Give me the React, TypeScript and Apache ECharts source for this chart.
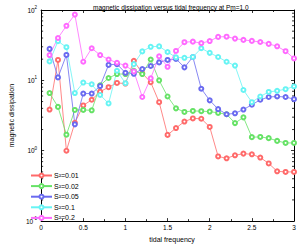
import React, { useEffect, useRef } from "react";
import * as echarts from "echarts";

const freqs = [0.1,0.2,0.3,0.4,0.5,0.6,0.7,0.8,0.9,1.0,1.1,1.2,1.3,1.4,1.5,1.6,1.7,1.8,1.9,2.0,2.1,2.2,2.3,2.4,2.5,2.6,2.7,2.8,2.9,3.0];
const s001 = [3.85,19.5,1.0,2.5,4.4,5.3,6.9,8.0,9.2,9.0,19,12.6,9.4,4.9,1.68,2.1,2.6,2.88,2.85,2.18,0.83,0.78,0.86,0.91,0.89,0.80,0.66,0.51,0.50,0.50];
const s002 = [6.6,4.2,1.69,3.8,3.8,3.75,8.5,10.8,12.3,12.3,13.7,12.3,19.8,10,5.9,4.0,3.56,3.68,3.65,3.6,3.45,3.3,2.47,2.98,1.56,1.57,1.51,1.38,1.29,1.29];
const s005 = [28,11,23,2.37,6.5,6.5,8.3,16.6,17,12.8,12.4,14.5,16,18,19.5,20.2,15.3,21.5,7.6,5.2,3.9,3.3,3.4,3.85,4.5,5.3,5.8,5.9,5.8,5.4];
const s01 = [18.6,36,29.6,6.6,9.3,8.8,6.2,4.7,13.7,9.1,17,25.8,30,30.5,25.3,21.2,20.9,21.5,28.6,24.6,21.5,18.4,16.2,7.3,4.9,5.9,6.85,7.1,7.5,8.2];
const s02 = [22.9,40,59.6,86,18.4,28.6,22.9,19.8,17.8,16.2,13.4,5.8,10.7,22,15.6,26.2,34.9,35.5,33.8,36.2,41.5,41.8,39.2,37.6,36.4,35.1,33,30.5,26,20.5];

const seriesNames = ["S²=0.01", "S²=0.02", "S²=0.05", "S²=0.1", "S²=0.2"];
const seriesValues = [s001, s002, s005, s01, s02];
const seriesColors = ["#ff6a6a", "#66e266", "#6a6af0", "#66f4f4", "#ff6aff"];
const xTicks = [0, 0.5, 1, 1.5, 2, 2.5, 3];
const yDecades = [0.1, 1, 10, 100];

const FONT = "Liberation Sans, Arial, Helvetica, sans-serif";

export default function App() {
  const ref = useRef<HTMLDivElement>(null);
  useEffect(() => {
    document.body.style.margin = "0";
    const chart = echarts.init(ref.current!, null, { renderer: "svg" });
    const minorVals: number[][] = [];
    for (let d = 0; d < yDecades.length - 1; d++) {
      for (let k = 2; k <= 9; k++) minorVals.push([0, yDecades[d] * k]);
    }
    const lineSeries = seriesNames.map((name, i) => ({
      name,
      type: "line",
      data: freqs.map((f, j) => [f, seriesValues[i][j]]),
      symbol: "emptyCircle",
      symbolSize: 4,
      lineStyle: { width: 0.8, color: seriesColors[i] },
      itemStyle: { color: seriesColors[i], borderColor: seriesColors[i], borderWidth: 0.8 },
      xAxisIndex: 0,
      yAxisIndex: 0,
    }));
    const axisCommonX = {
      type: "value",
      min: xTicks[0],
      max: xTicks[xTicks.length - 1],
      interval: 0.5,
      axisLine: { show: true, onZero: false, lineStyle: { color: "#000", width: 1 } },
      axisTick: { show: true, inside: true, length: 3, lineStyle: { color: "#000", width: 0.8 } },
      minorTick: { show: true, splitNumber: 2, length: 2, lineStyle: { color: "#000", width: 0.8 } },
      splitLine: { show: false },
    };
    const axisCommonY = {
      type: "log",
      logBase: 10,
      min: yDecades[0],
      max: yDecades[yDecades.length - 1],
      axisLine: { show: true, onZero: false, lineStyle: { color: "#000", width: 1 } },
      axisTick: { show: true, inside: true, length: 3, lineStyle: { color: "#000", width: 0.8 } },
      splitLine: { show: false },
    };
    chart.setOption({
      animation: false,
      backgroundColor: "#fff",
      title: {
        text: "magnetic dissipation versus tidal frequency at Pm=1.0",
        left: 88,
        top: -1,
        textStyle: { fontSize: 6.5, fontWeight: "normal", color: "#000", fontFamily: FONT },
      },
      grid: { left: 23, right: 9, top: 10, bottom: 19, containLabel: false },
      legend: {
        orient: "vertical",
        left: 30,
        top: 172,
        itemWidth: 21,
        itemHeight: 5,
        itemGap: 3.6,
        padding: 0,
        data: seriesNames,
        textStyle: { fontSize: 7, color: "#000", fontFamily: FONT, padding: [0, 0, 0, -3], lineHeight: 7 },
      },
      xAxis: [
        {
          ...axisCommonX,
          position: "bottom",
          name: "tidal frequency",
          nameLocation: "middle",
          nameGap: 10,
          nameTextStyle: { fontSize: 7, color: "#000", fontFamily: FONT, padding: [0, 0, 0, 9] },
          axisLabel: { fontSize: 6.5, color: "#000", fontFamily: FONT, margin: 3, showMinLabel: true, showMaxLabel: true },
        },
        {
          ...axisCommonX,
          position: "top",
          axisLabel: { show: false },
        },
      ],
      yAxis: [
        {
          ...axisCommonY,
          position: "left",
          name: "magnetic dissipation",
          nameLocation: "middle",
          nameGap: 14,
          nameRotate: 90,
          nameTextStyle: { fontSize: 7, color: "#000", fontFamily: FONT },
          axisLabel: {
            color: "#000",
            fontFamily: FONT,
            margin: 4,
            showMinLabel: true,
            showMaxLabel: true,
            formatter: (v: number) => "10{sup|" + Math.round(Math.log10(v)).toString() + "}",
            rich: {
              sup: { fontSize: 4.5, verticalAlign: "bottom", padding: [0, 0, 5, 0], color: "#000", fontFamily: FONT },
            },
            fontSize: 6.5,
          },
        },
        {
          ...axisCommonY,
          position: "right",
          axisLabel: { show: false },
        },
      ],
      series: [
        ...lineSeries,
        {
          type: "custom",
          silent: true,
          xAxisIndex: 0,
          yAxisIndex: 0,
          clip: false,
          data: minorVals,
          renderItem: (params: any, api: any) => {
            const v = api.value(1);
            const l = api.coord([xTicks[0], v]);
            const r = api.coord([xTicks[xTicks.length - 1], v]);
            const style = { stroke: "#000", lineWidth: 0.8 };
            return {
              type: "group",
              children: [
                { type: "line", shape: { x1: l[0], y1: l[1], x2: l[0] + 2, y2: l[1] }, style },
                { type: "line", shape: { x1: r[0] - 2, y1: r[1], x2: r[0], y2: r[1] }, style },
              ],
            };
          },
        },
      ],
    });
    return () => chart.dispose();
  }, []);
  return <div ref={ref} style={{ width: 303, height: 248, position: "absolute", left: 0, top: 0 }} />;
}
